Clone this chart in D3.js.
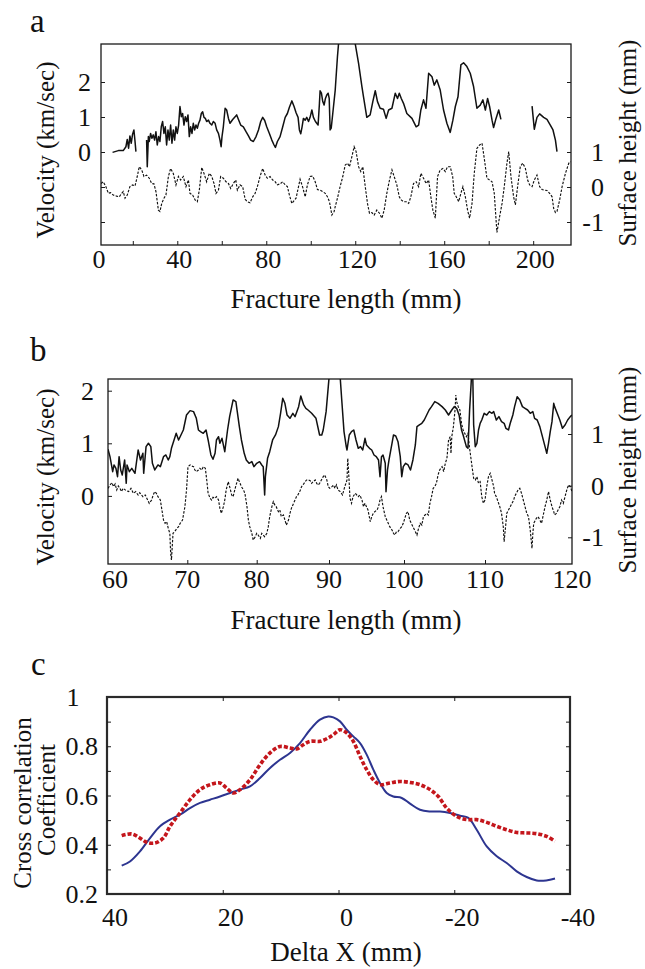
<!DOCTYPE html>
<html lang="en">
<head>
<meta charset="UTF-8">
<title>Velocity and surface height along the fracture</title>
<script src="https://cdn.jsdelivr.net/npm/d3@7/dist/d3.min.js"></script>
<style>
    body{ margin:0; background:#fff; }
    svg{ display:block; }
    text{ font-family:"Liberation Serif","DejaVu Serif",serif; }
    .frame{ fill:none; stroke:#1a1a1a; stroke-width:1.3; }
    .frameC{ fill:none; stroke:#2a2a2a; stroke-width:2.2; }
    .tick line{ stroke:#1a1a1a; stroke-width:1; }
    .domain{ display:none; }
    .num{ font-size:26px; fill:#111; }
    .title{ font-size:27px; fill:#111; }
    .vtitle{ font-size:25px; fill:#111; }
    .panel{ font-size:33px; fill:#111; }
    .vel{ fill:none; stroke:#111; stroke-width:1.5; stroke-linejoin:round; }
    .surf{ fill:none; stroke:#111; stroke-width:1.15; stroke-dasharray:2.5,1.5; }
</style>
</head>
<body>
<svg id="main" width="645" height="969"></svg>
<script>
    // ---- panel a : whole fracture (mm, km/sec) and surface height (mm, mm)
    const velA1 = [[10.9,-0.01],[13.5,0.04],[15.7,0.04],[16.9,0.15],[17.5,0.36],[18.1,0.11],[18.7,0.46],[19.3,0.25],[19.9,0.51],[20.5,0.63],[21.0,0.30],[21.4,0.01]];
    const velA2 = [[26.2,0.34],[26.5,-0.42],[27.0,0.44],[27.4,0.30],[28.0,0.53],[28.6,0.39],[29.2,0.49],[29.8,0.34],[30.4,0.58],[31.0,0.20],[31.6,0.44],[32.2,0.30],[32.8,0.72],[33.4,0.87],[34.0,0.53],[34.6,0.72],[35.2,0.20],[35.8,0.63],[36.4,0.34],[37.0,0.77],[37.6,0.25],[38.2,0.63],[38.8,0.34],[39.4,0.72],[40.0,0.53],[40.6,0.77],[41.2,1.30],[41.8,1.01],[42.4,1.10],[43.0,0.77],[43.6,1.01],[44.2,0.87],[44.8,1.06],[45.4,0.44],[46.0,0.72],[46.6,0.53],[47.2,0.82],[47.8,0.63],[48.4,0.77],[49.0,0.68],[49.6,0.82],[50.2,0.91],[50.8,1.10],[51.4,1.15],[52.0,0.99],[52.6,0.96],[53.2,0.87],[54.0,0.91],[54.7,0.82],[55.5,0.77],[56.2,0.87],[57.0,0.82],[57.7,0.63],[58.5,0.53],[59.2,0.34],[59.7,0.15],[60.1,0.44],[60.7,0.72],[61.5,1.25],[62.2,1.20],[63.0,0.96],[63.7,0.82],[64.9,0.93],[66.0,1.01],[66.7,1.06],[67.5,0.93],[68.5,0.77],[69.7,0.72],[70.9,0.58],[72.0,0.46],[73.0,0.34],[74.2,0.30],[75.4,0.44],[76.5,0.63],[77.5,0.87],[78.4,0.99],[79.3,0.90],[80.2,0.72],[81.4,0.53],[82.5,0.34],[83.5,0.20],[84.1,0.13],[85.0,0.30],[86.2,0.44],[87.4,0.72],[88.5,0.99],[89.5,1.10],[90.4,1.28],[91.5,1.46],[92.5,1.30],[93.4,1.12],[94.3,0.99],[94.9,0.63],[95.5,0.52],[96.1,0.72],[96.7,0.96],[97.5,0.91],[98.2,0.99],[99.0,0.87],[99.7,0.99],[100.5,1.20],[101.2,0.99],[102.1,0.87],[103.3,0.77],[103.9,1.39],[104.2,1.75],[104.8,1.68],[105.4,1.44],[106.0,1.34],[106.6,1.53],[107.2,1.63],[107.8,1.68],[108.3,1.53],[108.7,0.63],[109.2,0.68],[109.9,1.10],[111.0,1.77],[112.0,2.72],[112.5,3.10],[115.0,4.2],[118.0,4.0],[120.0,3.09],[121.5,2.53],[123.0,1.87],[123.7,1.58],[125.2,0.99],[126.7,1.06],[127.9,1.44],[129.0,1.75],[130.0,1.44],[131.2,1.25],[132.7,1.22],[133.9,0.96],[135.0,1.20],[136.5,1.25],[138.0,1.68],[139.0,1.53],[139.8,1.68],[140.7,1.53],[141.7,1.39],[143.2,1.10],[145.5,0.96],[147.4,0.72],[148.5,0.77],[149.5,1.20],[150.7,1.49],[151.8,1.25],[153.0,2.25],[154.5,2.15],[155.5,1.91],[156.7,2.06],[158.2,1.77],[159.7,1.20],[161.2,0.82],[162.7,0.56],[163.9,0.91],[165.0,1.30],[166.2,1.58],[167.5,2.49],[168.7,2.55],[170.2,2.44],[171.7,2.25],[173.2,1.87],[174.7,1.25],[176.2,1.34],[177.4,1.49],[178.5,1.20],[179.5,1.53],[180.4,1.30],[181.5,0.91],[182.2,0.70],[183.3,0.96],[184.5,1.20],[185.5,0.93]];
    const velA3 = [[199.5,1.31],[200.5,0.65],[201.7,0.99],[202.9,1.09],[204.7,0.99],[206.2,0.93],[207.7,0.77],[208.9,0.63],[210.0,0.34],[210.7,0.01]];
    const surfA = [[5.7,0.10],[6.7,0.15],[7.9,0.01],[9.0,-0.18],[10.0,-0.16],[11.2,-0.23],[12.7,-0.26],[13.9,-0.28],[15.0,-0.18],[15.7,-0.13],[16.5,-0.32],[17.5,-0.23],[18.7,0.01],[19.9,0.06],[21.0,0.03],[22.0,0.30],[22.9,0.58],[24.0,0.49],[25.0,0.30],[26.2,0.34],[27.4,0.25],[28.5,0.10],[29.5,0.09],[30.4,-0.13],[31.5,-0.66],[32.2,-0.70],[33.0,-0.47],[34.0,-0.32],[34.9,-0.23],[36.0,0.30],[37.0,0.53],[38.2,0.39],[39.4,0.06],[40.5,0.30],[41.5,0.20],[42.7,0.30],[43.9,0.01],[45.0,0.20],[45.7,-0.18],[46.9,-0.23],[48.0,-0.37],[49.0,-0.42],[49.9,-0.09],[51.0,0.56],[52.0,0.39],[53.2,0.15],[54.4,0.39],[55.5,0.30],[56.5,0.10],[57.4,-0.18],[58.5,-0.09],[59.5,0.30],[60.7,0.25],[61.9,0.15],[63.0,0.10],[64.0,-0.04],[65.2,0.10],[66.3,0.20],[67.0,-0.09],[68.2,0.06],[69.4,0.01],[70.5,-0.35],[71.5,-0.42],[72.7,-0.45],[73.9,-0.28],[75.0,-0.18],[76.0,0.01],[77.2,0.30],[78.4,0.53],[79.5,0.34],[80.5,0.25],[81.7,0.30],[82.9,0.20],[84.0,0.15],[85.0,0.06],[86.2,0.09],[87.4,0.15],[88.5,0.06],[89.5,0.01],[90.4,-0.23],[91.5,-0.47],[92.5,-0.39],[93.4,-0.32],[94.5,0.01],[95.2,0.22],[96.4,-0.01],[97.5,-0.28],[98.5,0.06],[99.7,0.30],[100.9,0.31],[102.0,0.15],[103.0,-0.07],[104.2,-0.09],[105.3,-0.13],[106.5,-0.18],[107.5,-0.28],[108.4,-0.42],[109.5,-0.80],[110.5,-0.70],[111.0,-0.56],[112.0,-0.32],[113.2,0.01],[114.4,0.30],[115.5,0.63],[116.5,0.68],[117.4,0.58],[118.5,0.87],[119.5,1.15],[120.4,1.01],[121.5,0.58],[122.5,0.44],[123.4,0.58],[124.5,0.01],[125.5,-0.47],[126.4,-0.75],[127.5,-0.73],[128.5,-0.80],[129.7,-0.66],[130.9,-0.75],[132.0,-0.89],[133.0,-0.66],[134.2,-0.18],[135.4,0.20],[136.5,0.49],[137.5,0.30],[138.7,0.06],[139.8,-0.28],[140.7,-0.37],[141.7,-0.42],[142.9,-0.42],[144.0,-0.47],[145.0,-0.28],[146.2,0.10],[147.4,0.15],[148.5,0.01],[149.5,0.39],[150.7,0.25],[151.9,0.10],[153.0,0.20],[154.0,-0.28],[154.9,-0.66],[156.0,-0.89],[157.0,0.30],[158.2,0.49],[159.4,0.53],[160.5,0.44],[161.5,0.58],[162.7,0.58],[163.8,0.30],[164.5,-0.18],[165.4,-0.28],[166.5,-0.42],[167.5,-0.18],[168.4,0.01],[169.5,-0.28],[170.5,-0.66],[171.4,-0.89],[172.5,-0.47],[173.5,0.39],[174.7,1.10],[175.9,1.20],[177.0,1.25],[178.0,0.82],[179.2,0.25],[180.4,0.20],[181.5,0.15],[182.5,-0.18],[183.7,-1.30],[184.9,-0.85],[186.0,-0.47],[187.0,0.01],[188.2,0.68],[189.0,1.01],[190.0,0.30],[191.2,-0.28],[192.0,-0.51],[193.0,0.01],[194.2,0.58],[195.3,0.68],[196.5,0.53],[197.5,0.20],[198.4,0.06],[199.5,0.01],[200.5,0.20],[201.7,0.34],[202.9,0.01],[204.0,-0.07],[205.0,-0.09],[206.2,-0.10],[207.4,-0.18],[208.5,-0.28],[209.2,-0.61],[210.0,-0.73],[210.7,-0.70],[211.9,-0.37],[213.0,0.01],[214.5,0.39],[216.0,0.68],[217.0,0.72]];
    const xTicksA = [20,40,60,80,100,120,140,160,180,200];
    const xLabelsA = [40,80,120,160,200];
    const velTicksA = [-2,-1,0,1,2], velLabelsA = [0,1,2];
    const surfTicksA = [-1,0,1,2,3], surfLabelsA = [-1,0,1];

    // ---- panel b : zoom 60-120 mm
    const velB = [[60.0,0.886],[60.25,0.746],[60.59,0.461],[60.76,0.588],[61.0,0.524],[61.2,0.366],[61.4,0.746],[61.6,0.493],[61.8,0.398],[62.1,0.683],[62.3,0.239],[62.4,0.588],[62.7,0.461],[63.0,0.524],[63.4,0.429],[63.8,0.873],[64.1,0.683],[64.4,0.810],[64.5,0.429],[64.8,0.936],[65.1,1.000],[65.4,0.936],[65.6,0.620],[65.9,0.493],[66.3,0.588],[66.6,0.556],[67.0,0.746],[67.3,0.778],[67.6,0.683],[67.8,0.746],[68.0,0.905],[68.2,1.000],[68.6,1.190],[68.9,1.063],[69.2,1.158],[69.5,1.253],[69.9,1.538],[70.4,1.621],[70.9,1.602],[71.3,1.475],[71.6,1.253],[71.9,1.222],[72.3,1.190],[72.7,1.253],[73.0,1.063],[73.4,0.778],[73.7,0.696],[74.0,0.810],[74.2,1.063],[74.5,1.126],[74.7,1.000],[75.0,1.095],[75.4,0.841],[75.8,1.253],[76.1,1.507],[76.4,1.697],[76.6,1.824],[77.0,1.792],[77.2,1.602],[77.5,1.317],[77.8,1.063],[78.2,0.810],[78.5,0.683],[78.9,0.620],[79.3,0.651],[79.6,0.556],[80.0,0.620],[80.4,0.651],[80.7,0.588],[80.9,0.556],[81.1,0.018],[81.2,0.366],[81.5,0.715],[81.8,0.841],[82.2,1.063],[82.6,1.158],[83.0,1.317],[83.3,1.570],[83.6,1.855],[83.9,1.760],[84.2,1.538],[84.6,1.475],[85.0,1.570],[85.3,1.507],[85.8,1.697],[86.1,1.900],[86.5,1.729],[86.8,1.665],[87.1,1.633],[87.6,1.570],[88.2,1.475],[88.7,1.158],[89.0,1.158],[89.2,1.253],[89.6,1.602],[89.9,2.077],[90.0,2.235],[90.4,2.9],[91.2,2.9],[91.5,2.235],[91.7,1.824],[92.0,1.222],[92.3,0.936],[92.4,0.873],[92.7,1.158],[93.0,1.222],[93.3,1.253],[93.6,1.063],[93.9,0.905],[94.2,0.936],[94.5,0.873],[94.8,1.095],[95.0,0.968],[95.4,0.905],[95.7,0.873],[96.0,0.778],[96.3,0.746],[96.6,0.683],[96.8,0.366],[97.0,0.746],[97.2,0.778],[97.5,0.620],[97.6,0.081],[97.8,0.493],[98.0,0.683],[98.4,1.000],[98.6,1.158],[98.9,1.139],[99.2,1.031],[99.5,0.746],[99.7,0.366],[99.9,0.556],[100.2,0.620],[100.5,0.588],[100.8,0.493],[101.1,0.683],[101.4,0.968],[101.6,1.317],[101.9,1.348],[102.2,1.380],[102.5,1.443],[102.8,1.538],[103.1,1.633],[103.4,1.697],[103.8,1.792],[104.2,1.760],[104.7,1.697],[105.1,1.633],[105.5,1.538],[105.9,1.633],[106.2,1.697],[106.5,1.665],[106.8,1.538],[107.1,1.253],[107.3,1.158],[107.7,0.936],[107.9,0.905],[108.1,1.633],[108.3,2.172],[108.4,2.6],[108.5,2.204],[108.6,1.348],[108.8,0.936],[109.0,1.000],[109.2,1.253],[109.4,1.380],[109.6,1.443],[109.9,1.570],[110.2,1.538],[110.5,1.602],[110.8,1.570],[111.0,1.602],[111.3,1.443],[111.6,1.507],[111.9,1.412],[112.2,1.380],[112.4,1.285],[112.7,1.253],[112.9,1.380],[113.2,1.538],[113.4,1.697],[113.7,1.887],[114.0,1.824],[114.3,1.697],[114.6,1.665],[114.9,1.633],[115.2,1.570],[115.5,1.602],[115.7,1.475],[116.0,1.443],[116.3,1.317],[116.6,1.126],[116.9,0.936],[117.1,0.810],[117.3,1.000],[117.5,1.222],[117.7,1.412],[117.9,1.760],[118.0,1.697],[118.3,1.570],[118.6,1.443],[118.9,1.285],[119.2,1.348],[119.5,1.443],[119.8,1.507],[120.0,1.538]];
    const surfB = [[60.0,-0.052],[60.25,0.013],[60.5,0.058],[60.7,-0.020],[60.9,0.032],[61.1,-0.084],[61.3,-0.007],[61.5,-0.052],[61.7,-0.116],[61.9,-0.052],[62.3,-0.097],[62.6,-0.116],[62.9,-0.052],[63.2,-0.149],[63.5,-0.116],[63.8,-0.181],[64.0,-0.136],[64.4,-0.213],[64.7,-0.181],[65.0,-0.278],[65.2,-0.342],[65.5,-0.278],[65.7,-0.181],[65.9,-0.116],[66.1,-0.149],[66.3,-0.213],[66.6,-0.278],[66.8,-0.471],[67.0,-0.665],[67.2,-0.729],[67.4,-0.697],[67.6,-0.826],[67.8,-0.923],[67.9,-1.310],[68.0,-1.439],[68.1,-1.181],[68.2,-0.923],[68.4,-0.891],[68.7,-0.826],[68.9,-0.794],[69.1,-0.729],[69.4,-0.665],[69.7,-0.407],[69.9,-0.084],[70.1,0.368],[70.4,0.400],[70.6,0.381],[70.9,0.368],[71.1,0.303],[71.3,0.271],[71.6,0.303],[71.8,0.336],[72.1,0.303],[72.3,0.368],[72.6,0.336],[72.8,0.110],[73.0,-0.149],[73.3,-0.245],[73.5,-0.278],[73.7,-0.226],[74.0,-0.245],[74.2,-0.213],[74.5,-0.278],[74.7,-0.439],[74.9,-0.536],[75.2,-0.407],[75.4,-0.278],[75.6,-0.084],[75.9,0.077],[76.1,-0.020],[76.4,-0.181],[76.6,-0.213],[76.9,-0.052],[77.1,0.045],[77.3,0.142],[77.6,0.045],[77.8,-0.020],[78.1,-0.084],[78.3,-0.149],[78.6,-0.407],[78.8,-0.665],[79.0,-0.794],[79.3,-0.923],[79.5,-1.052],[79.8,-0.988],[80.0,-0.923],[80.2,-0.955],[80.5,-1.020],[80.7,-0.923],[80.9,-0.955],[81.1,-0.988],[81.4,-0.923],[81.6,-0.794],[81.8,-0.600],[82.1,-0.407],[82.3,-0.310],[82.5,-0.374],[82.7,-0.407],[83.0,-0.504],[83.2,-0.471],[83.4,-0.600],[83.7,-0.568],[83.9,-0.665],[84.1,-0.762],[84.4,-0.665],[84.6,-0.536],[84.8,-0.439],[85.1,-0.342],[85.3,-0.278],[85.5,-0.213],[85.7,-0.181],[86.0,-0.097],[86.2,-0.020],[86.4,0.013],[86.7,0.077],[86.9,0.110],[87.1,0.110],[87.4,0.097],[87.6,0.045],[87.8,0.077],[88.1,0.110],[88.3,0.045],[88.5,0.013],[88.7,0.045],[89.2,0.174],[89.4,0.206],[89.7,0.110],[89.9,-0.020],[90.1,-0.052],[90.4,-0.020],[90.6,0.013],[90.8,-0.052],[91.0,0.013],[91.2,-0.084],[91.5,-0.116],[91.8,-0.181],[92.1,-0.020],[92.4,0.110],[92.5,0.529],[92.6,0.303],[92.8,-0.245],[93.0,-0.342],[93.2,-0.213],[93.5,-0.149],[93.7,-0.181],[93.9,-0.213],[94.1,-0.181],[94.4,-0.278],[94.6,-0.407],[94.8,-0.342],[95.0,-0.407],[95.2,-0.471],[95.5,-0.697],[95.7,-0.600],[95.9,-0.536],[96.1,-0.504],[96.4,-0.471],[96.6,-0.407],[96.8,-0.278],[97.0,-0.213],[97.2,-0.407],[97.5,-0.600],[97.7,-0.665],[97.9,-0.729],[98.1,-0.794],[98.4,-0.859],[98.6,-0.923],[98.8,-0.955],[99.0,-0.891],[99.2,-0.891],[99.5,-0.826],[99.7,-0.794],[99.9,-0.729],[100.1,-0.633],[100.3,-0.536],[100.5,-0.504],[100.7,-0.665],[100.9,-0.729],[101.2,-0.826],[101.4,-0.891],[101.6,-0.955],[101.8,-0.826],[102.0,-0.729],[102.2,-0.762],[102.4,-0.600],[102.6,-0.568],[102.8,-0.536],[103.0,-0.568],[103.2,-0.342],[103.4,-0.213],[103.6,-0.052],[103.8,-0.020],[104.0,0.045],[104.2,0.206],[104.4,0.303],[104.7,0.368],[104.9,0.271],[105.1,0.432],[105.3,0.529],[105.5,0.884],[105.7,0.949],[105.8,0.626],[105.9,0.949],[106.1,1.142],[106.3,1.465],[106.4,1.755],[106.5,1.626],[106.7,1.529],[106.9,1.465],[107.1,1.207],[107.3,1.078],[107.5,1.013],[107.7,0.949],[107.9,1.013],[108.1,0.723],[108.4,0.368],[108.6,0.142],[108.8,0.110],[109.0,0.174],[109.2,0.045],[109.4,0.077],[109.6,-0.213],[109.8,-0.342],[110.0,-0.278],[110.2,-0.020],[110.4,0.174],[110.6,0.239],[110.8,0.110],[111.0,-0.020],[111.1,-0.149],[111.3,-0.213],[111.5,-0.310],[111.7,-0.407],[111.9,-0.536],[112.1,-0.794],[112.2,-1.084],[112.4,-0.729],[112.5,-0.536],[112.7,-0.471],[112.9,-0.407],[113.1,-0.342],[113.3,-0.278],[113.4,-0.213],[113.6,-0.149],[113.8,-0.084],[114.0,-0.052],[114.2,-0.149],[114.4,-0.278],[114.6,-0.407],[114.8,-0.536],[115.0,-0.600],[115.2,-0.859],[115.4,-1.214],[115.5,-0.923],[115.6,-0.729],[115.7,-0.697],[115.9,-0.633],[116.1,-0.600],[116.3,-0.665],[116.5,-0.729],[116.7,-0.568],[116.9,-0.407],[117.1,-0.278],[117.3,-0.116],[117.5,-0.278],[117.7,-0.407],[117.9,-0.504],[118.0,-0.568],[118.2,-0.536],[118.4,-0.471],[118.6,-0.407],[118.8,-0.278],[119.0,-0.342],[119.2,-0.213],[119.4,-0.084],[119.6,0.013],[119.8,-0.020],[120.0,-0.116]];
    const xTicksB = [60,70,80,90,100,110,120];
    const velLabelsB = [0,1,2];
    const surfLabelsB = [-1,0,1];

    // ---- panel c : cross correlation against shift
    const ccBlue = [[37.46,0.315],[36.03,0.332],[34.30,0.373],[32.57,0.427],[30.84,0.475],[29.11,0.502],[27.39,0.522],[25.66,0.549],[23.93,0.570],[22.20,0.583],[20.47,0.596],[18.75,0.610],[17.02,0.624],[15.29,0.637],[13.56,0.671],[11.83,0.712],[10.11,0.745],[8.38,0.773],[6.65,0.813],[4.92,0.867],[3.20,0.908],[1.76,0.921],[0.89,0.917],[-0.26,0.901],[-1.42,0.867],[-2.56,0.840],[-3.72,0.813],[-4.87,0.766],[-6.02,0.705],[-7.17,0.651],[-8.33,0.610],[-9.47,0.596],[-10.92,0.590],[-12.36,0.567],[-14.08,0.542],[-15.81,0.535],[-17.54,0.535],[-19.27,0.529],[-21.00,0.518],[-22.43,0.509],[-23.88,0.461],[-25.61,0.393],[-27.34,0.353],[-29.06,0.326],[-30.79,0.292],[-32.52,0.269],[-34.25,0.255],[-35.39,0.254],[-36.55,0.258],[-37.41,0.263]];
    const ccRed = [[37.46,0.437],[35.73,0.444],[34.30,0.427],[33.14,0.410],[31.71,0.407],[30.27,0.427],[29.11,0.475],[27.39,0.529],[25.66,0.583],[23.93,0.624],[22.20,0.644],[20.47,0.651],[19.32,0.630],[18.18,0.610],[17.02,0.624],[15.29,0.664],[13.56,0.725],[11.83,0.773],[10.11,0.799],[8.38,0.793],[7.23,0.789],[6.08,0.806],[4.92,0.820],[3.20,0.820],[1.76,0.834],[0.89,0.847],[-0.26,0.867],[-1.42,0.854],[-2.56,0.820],[-3.72,0.759],[-4.87,0.705],[-6.02,0.664],[-7.17,0.644],[-8.90,0.651],[-10.63,0.657],[-12.36,0.653],[-14.08,0.644],[-15.81,0.624],[-17.25,0.596],[-18.70,0.549],[-20.43,0.515],[-22.15,0.502],[-23.88,0.502],[-25.61,0.491],[-27.34,0.475],[-29.06,0.461],[-30.79,0.450],[-32.52,0.448],[-34.25,0.445],[-35.98,0.434],[-37.41,0.414]];
    const xTicksC = [40,20,0,-20,-40];
    const yTicksC = [0.2,0.3,0.4,0.5,0.6,0.7,0.8,0.9,1];
    const yLabelsC = [0.2,0.4,0.6,0.8];

    const FONT = '"Liberation Serif", "DejaVu Serif", serif';
    const svg = d3.select("svg#main");

    // scales
    const xA = d3.scaleLinear().domain([5.7, 217]).range([101, 571]);
    const velA = d3.scaleLinear().domain([0, 2]).range([152, 82]);
    const surfAy = d3.scaleLinear().domain([0, 1]).range([187, 152]);

    // the printed axis of b is not evenly spaced, follow it tick by tick
    const xB = d3.scaleLinear().domain(xTicksB).range([108, 187.3, 256.7, 329, 404, 485, 572]);
    const velBy = d3.scaleLinear().domain([0, 2]).range([495.9, 390.7]);
    const surfBy = d3.scaleLinear().domain([-1, 1]).range([537.3, 434]);

    const xC = d3.scaleLinear().domain([40, -40]).range([107, 570]);
    const yC = d3.scaleLinear().domain([0.2, 1]).range([894, 697]);

    function frame(x0, x1, y0, y1, cls, id){
        svg.append("clipPath").attr("id", id).append("rect")
            .attr("x", x0).attr("y", y0).attr("width", x1 - x0).attr("height", y1 - y0);
        svg.append("rect").attr("class", cls)
            .attr("x", x0).attr("y", y0).attr("width", x1 - x0).attr("height", y1 - y0);
    }

    function ticks(axis, tx, ty){
        svg.append("g").attr("transform", `translate(${tx},${ty})`)
            .call(axis.tickSizeInner(-4).tickSizeOuter(0).tickFormat(""));
    }

    function label(txt, x, y, anchor, cls){
        svg.append("text").attr("class", cls || "num")
            .attr("font-family", FONT)
            .attr("x", x).attr("y", y)
            .attr("text-anchor", anchor || "middle")
            .text(txt);
    }

    function vlabel(txt, x, y, cls){
        svg.append("text").attr("class", cls || "vtitle")
            .attr("font-family", FONT)
            .attr("transform", `translate(${x},${y}) rotate(-90)`)
            .attr("text-anchor", "middle")
            .text(txt);
    }

    // ===== panel a =====
    frame(101, 571, 44, 245, "frame", "clipA");
    ticks(d3.axisBottom(xA).tickValues(xTicksA), 0, 245);
    ticks(d3.axisLeft(velA).tickValues(velTicksA), 101, 0);
    ticks(d3.axisRight(surfAy).tickValues(surfTicksA), 571, 0);

    const lineA = d3.line().x(d => xA(d[0])).y(d => velA(d[1]));
    const lineAs = d3.line().x(d => xA(d[0])).y(d => surfAy(d[1]));
    const gA = svg.append("g").attr("clip-path", "url(#clipA)");
    gA.selectAll(".vel").data([velA1, velA2, velA3]).enter()
        .append("path").attr("class", "vel").attr("d", lineA);
    gA.append("path").attr("class", "surf").attr("d", lineAs(surfA));

    label("0", xA.range()[0] - 2, 268);
    xLabelsA.forEach(v => label(v, xA(v) + 2, 268));
    velLabelsA.forEach(v => label(v, 91, velA(v) + 9, "end"));
    surfLabelsA.forEach(v => label(v, 604, surfAy(v) + 9, "end"));
    label("Fracture length (mm)", 346, 308, "middle", "title");
    vlabel("Velocity (km/sec)", 54, 150);
    vlabel("Surface height (mm)", 636, 143);
    label("a", 30, 32, "start", "panel");

    // ===== panel b =====
    frame(108, 572, 379, 564, "frame", "clipB");
    ticks(d3.axisBottom(xB).tickValues(xTicksB.slice(1, -1)), 0, 564);
    ticks(d3.axisLeft(velBy).tickValues(velLabelsB), 108, 0);
    ticks(d3.axisRight(surfBy).tickValues(surfLabelsB), 572, 0);

    const lineB = d3.line().x(d => xB(d[0])).y(d => velBy(d[1]));
    const lineBs = d3.line().x(d => xB(d[0])).y(d => surfBy(d[1]));
    const gB = svg.append("g").attr("clip-path", "url(#clipB)");
    gB.append("path").attr("class", "vel").attr("d", lineB(velB));
    gB.append("path").attr("class", "surf").attr("d", lineBs(surfB));

    xTicksB.forEach((v, i) => label(v, xB(v) + (i === 0 ? 7 : 0), 588));
    velLabelsB.forEach(v => label(v, 94, velBy(v) + 9, "end"));
    surfLabelsB.forEach(v => label(v, 604, surfBy(v) + 9, "end"));
    label("Fracture length (mm)", 346, 629, "middle", "title");
    vlabel("Velocity (km/sec)", 54, 477);
    vlabel("Surface height (mm)", 636, 470);
    label("b", 30, 361, "start", "panel");

    // ===== panel c =====
    frame(107, 570, 697, 894, "frameC", "clipC");
    ticks(d3.axisBottom(xC).tickValues(xTicksC.slice(1, -1)), 0, 894);
    ticks(d3.axisTop(xC).tickValues(xTicksC.slice(1, -1)), 0, 697);
    ticks(d3.axisLeft(yC).tickValues(yTicksC.slice(1, -1)), 107, 0);
    ticks(d3.axisRight(yC).tickValues(yTicksC.slice(1, -1)), 570, 0);

    const lineC = d3.line().x(d => xC(d[0])).y(d => yC(d[1])).curve(d3.curveCatmullRom);
    svg.append("path").attr("d", lineC(ccBlue))
        .attr("fill", "none").attr("stroke", "#2d3590").attr("stroke-width", 2);
    svg.append("path").attr("d", lineC(ccRed))
        .attr("fill", "none").attr("stroke", "#c4161c").attr("stroke-width", 3.6)
        .attr("stroke-dasharray", "4,2");

    xTicksC.forEach(v => label(v, xC(v) + 8, 926));
    yLabelsC.forEach(v => label(v, 98, yC(v) + 9, "end"));
    // the top label "1" sits further left in the original
    label("1", 73, yC(1) + 9, "middle");
    label("Delta X (mm)", 346, 961, "middle", "title");
    vlabel("Cross correlation", 31, 803);
    vlabel("Coefficient", 55, 800);
    label("c", 31, 675, "start", "panel");
</script>
</body>
</html>
